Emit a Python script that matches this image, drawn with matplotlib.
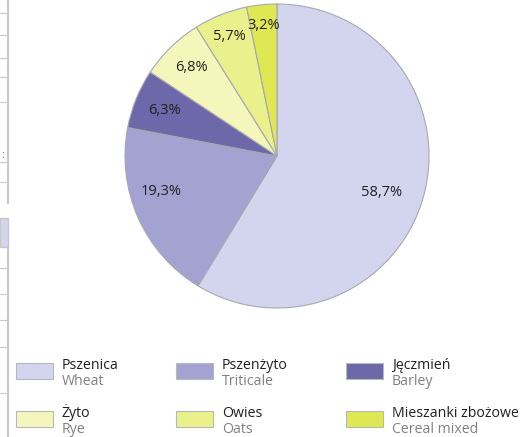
import numpy as np
import matplotlib.pyplot as plt
from matplotlib.patches import Rectangle
from matplotlib.lines import Line2D

plt.rcParams['font.family'] = ['Open Sans', 'DejaVu Sans']

# dane (udzial w %)
names_pl = ["Pszenica", "Pszenżyto", "Jęczmień", "Żyto", "Owies", "Mieszanki zbożowe"]
names_en = ["Wheat", "Triticale", "Barley", "Rye", "Oats", "Cereal mixed"]
shares = [58.7, 19.3, 6.3, 6.8, 5.7, 3.2]
labels = ["58,7%", "19,3%", "6,3%", "6,8%", "5,7%", "3,2%"]
colors = ["#d3d4ee", "#a4a2d1", "#6c68aa", "#f4f6bc", "#eaf08c", "#dfe752"]

W, H = 522, 437
fig = plt.figure(figsize=(W / 100, H / 100), dpi=100)

# pie: srodek (277,156) px, promien ~152 px
cx, cy, r = 277, 156, 152
ax = fig.add_axes([(cx - r) / W, (H - cy - r) / H, 2 * r / W, 2 * r / H])
wedges, _ = ax.pie(shares, colors=colors, startangle=90, counterclock=False,
                   radius=1.0, wedgeprops=dict(edgecolor="#a8a8b0", linewidth=0.8))
ax.set_xlim(-1, 1)
ax.set_ylim(-1, 1)
ax.set_aspect("equal")
ax.axis("off")

# etykiety procentowe (odleglosc od srodka, przesuniecie kata w stopniach)
label_r = [0.73, 0.80, 0.80, 0.81, 0.85, 0.86]
label_da = [-3.7, -7.0, 0, 0, 0, 0]
for w, lab, rr, da in zip(wedges, labels, label_r, label_da):
    ang = np.deg2rad((w.theta1 + w.theta2) / 2 + da)
    ax.text(rr * np.cos(ang), rr * np.sin(ang), lab, ha="center", va="center",
            fontsize=10.5, color="#231f20")

# legenda (3 kolumny x 2 wiersze)
col_x = [16, 176, 346]
row_y = [363, 411]
for i, (pl, en, c) in enumerate(zip(names_pl, names_en, colors)):
    x0 = col_x[i % 3]
    y0 = row_y[i // 3]
    fig.patches.append(Rectangle((x0 / W, (H - y0 - 16) / H), 37 / W, 16 / H,
                                 transform=fig.transFigure, facecolor=c,
                                 edgecolor="#b8b8b8", linewidth=0.8))
    fig.text((x0 + 46) / W, (H - y0 - 6) / H, pl, fontsize=10.2, color="#231f20",
             ha="left", va="baseline")
    fig.text((x0 + 46) / W, (H - y0 - 22) / H, en, fontsize=10.2, color="#808080",
             ha="left", va="baseline")

# fragment tabeli po lewej (przyciecie oryginalu)
lc = "#c8c8c8"
fig.add_artist(Line2D([7.5 / W, 7.5 / W], [1 - 0 / H, 1 - 203 / H], color=lc, lw=1.5,
                      transform=fig.transFigure))
fig.add_artist(Line2D([7.5 / W, 7.5 / W], [1 - 247 / H, 0], color=lc, lw=1.5,
                      transform=fig.transFigure))
for yy in [13, 35, 58, 77, 102, 162, 182, 268, 294, 320, 347, 393]:
    fig.add_artist(Line2D([0, 7 / W], [1 - yy / H, 1 - yy / H], color=lc, lw=0.8,
                          transform=fig.transFigure))
fig.patches.append(Rectangle((0, 1 - 247 / H), 8 / W, 29 / H, transform=fig.transFigure,
                             facecolor="#d3d4ee", edgecolor=lc, linewidth=1.0))
fig.text(1 / W, 1 - 155 / H, ":", fontsize=7, color="#555555", va="center")

fig.savefig("out.png", dpi=100)
